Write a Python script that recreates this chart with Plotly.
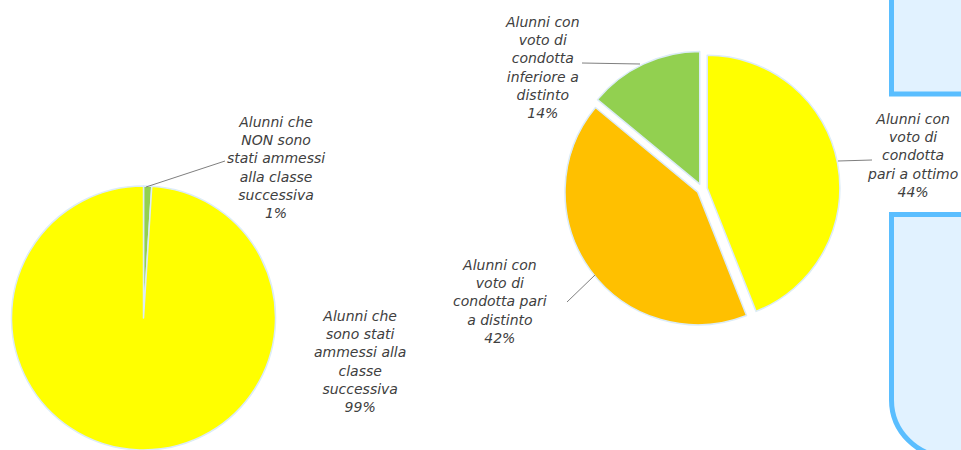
import plotly.graph_objects as go

# --- dati ---
ammessi_labels = ["Alunni che<br>NON sono<br>stati ammessi<br>alla classe<br>successiva",
                  "Alunni che<br>sono stati<br>ammessi alla<br>classe<br>successiva"]
ammessi_values = [1, 99]
ammessi_colors = ["#92D050", "#FFFF00"]

condotta_labels = ["Alunni con<br>voto di<br>condotta<br>pari a ottimo",
                   "Alunni con<br>voto di<br>condotta pari<br>a distinto",
                   "Alunni con<br>voto di<br>condotta<br>inferiore a<br>distinto"]
condotta_values = [44, 42, 14]
condotta_colors = ["#FFFF00", "#FFC000", "#92D050"]

W, H = 961, 450


def px(x, y):
    # pixel -> paper
    return x / W, 1 - y / H


fig = go.Figure()

fig.add_trace(go.Pie(
    labels=ammessi_labels, values=ammessi_values, sort=False,
    direction="clockwise", rotation=0,
    marker=dict(colors=ammessi_colors, line=dict(color="#dcecf8", width=1.5)),
    textinfo="none", hoverinfo="percent",
    domain=dict(x=[11.5 / W, 275.5 / W], y=[0, 264 / H]),
))

fig.add_trace(go.Pie(
    labels=condotta_labels, values=condotta_values, sort=False,
    direction="clockwise", rotation=0, pull=[0.04, 0.04, 0.04],
    marker=dict(colors=condotta_colors, line=dict(color="#dcecf8", width=1.5)),
    textinfo="none", hoverinfo="percent",
    domain=dict(x=[564 / W, 840 / W], y=[123 / H, 399 / H]),
))

# etichette (testo + percentuale), posizionate come nell'originale
font = dict(family="DejaVu Sans", size=14, color="#404040", style="italic")
tot_a = sum(ammessi_values)
tot_c = sum(condotta_values)
lbl_pos_a = [(276, 168), (360, 361)]
lbl_pos_c = [(912, 155), (500, 301), (542, 68)]
for lab, v, (x, y) in zip(ammessi_labels, ammessi_values, lbl_pos_a):
    xp, yp = px(x, y)
    fig.add_annotation(x=xp, y=yp, xref="paper", yref="paper", showarrow=False,
                       xanchor="center", yanchor="middle",
                       text=f"{lab}<br>{round(100 * v / tot_a)}%", font=font, align="center")
for lab, v, (x, y) in zip(condotta_labels, condotta_values, lbl_pos_c):
    xp, yp = px(x, y)
    fig.add_annotation(x=xp, y=yp, xref="paper", yref="paper", showarrow=False,
                       xanchor="center", yanchor="middle",
                       text=f"{lab}<br>{round(100 * v / tot_c)}%", font=font, align="center")

# linee guida
leaders = [((146, 187), (225, 161)), ((582, 63), (640, 64)),
           ((567, 302), (595, 275)), ((838, 161), (872, 160))]
for (a, b) in leaders:
    x0, y0 = px(*a)
    x1, y1 = px(*b)
    fig.add_shape(type="line", xref="paper", yref="paper", x0=x0, y0=y0, x1=x1, y1=y1,
                  line=dict(color="#7f7f7f", width=1))

# riquadri decorativi a destra
box_line = dict(color="#5ABEFF", width=5)
box_fill = "#E1F2FF"


def path(pts):
    out = []
    for cmd, coords in pts:
        s = " ".join(f"{px(x, y)[0]:.5f},{px(x, y)[1]:.5f}" for x, y in coords)
        out.append(f"{cmd} {s}")
    return " ".join(out) + " Z"


fig.add_shape(type="path", xref="paper", yref="paper", layer="below",
              path=path([("M", [(891.5, -10)]), ("L", [(891.5, 94)]), ("L", [(980, 94)]),
                         ("L", [(980, -10)])]),
              line=box_line, fillcolor=box_fill)
fig.add_shape(type="path", xref="paper", yref="paper", layer="below",
              path=path([("M", [(980, 214.5)]), ("L", [(891.5, 214.5)]), ("L", [(891.5, 400)]),
                         ("C", [(891.5, 431.5), (917.5, 457), (949, 457)]), ("L", [(980, 460)])]),
              line=box_line, fillcolor=box_fill)

fig.update_layout(width=W, height=H, margin=dict(l=0, r=0, t=0, b=0),
                  paper_bgcolor="white", plot_bgcolor="white", showlegend=False)

fig.write_html("out.html", config={"displayModeBar": False},
               post_script="document.body.style.margin='0px';document.body.style.overflow='hidden';")
